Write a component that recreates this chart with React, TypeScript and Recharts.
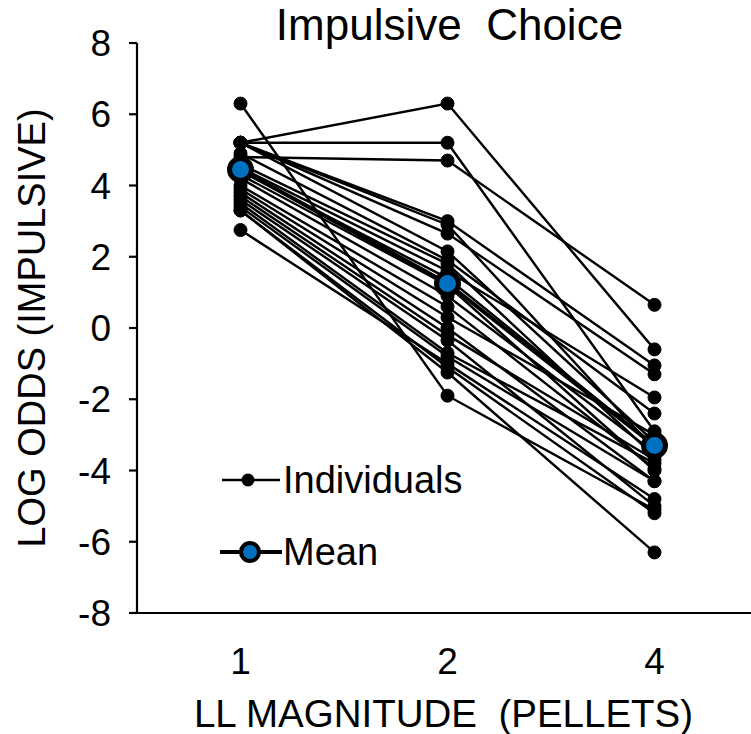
import { Legend, Line, LineChart, XAxis, YAxis } from "recharts";

const categories = ["1", "2", "4"];
const meanValues = [4.45, 1.25, -3.3];

// one row per animal: log odds at LL = 1, 2, 4 pellets
const individuals: number[][] = [
  [6.3, -1.9, -5.1],
  [5.2, 6.3, -0.6],
  [5.2, 5.2, -2.9],
  [4.8, 4.7, 0.65],
  [5.2, 3.0, -1.05],
  [5.2, 2.9, -3.4],
  [5.2, 2.65, -1.3],
  [5.2, 2.15, -3.2],
  [4.9, 1.9, -2.4],
  [4.6, 1.8, -3.6],
  [4.5, 1.6, -1.95],
  [4.4, 1.4, -3.3],
  [4.3, 1.2, -4.0],
  [4.2, 0.9, -3.5],
  [4.0, 0.6, -3.95],
  [3.9, 0.3, -3.0],
  [3.8, 0.0, -4.3],
  [3.7, -0.2, -3.7],
  [3.6, -0.35, -5.0],
  [3.5, -0.7, -3.8],
  [3.4, -0.8, -4.3],
  [3.3, -1.1, -5.2],
  [3.3, -1.25, -6.3],
  [2.75, -1.0, -4.8],
];

const yTicks = [-8, -6, -4, -2, 0, 2, 4, 6, 8];
const boundaryTicks = [0.5, 1.5, 2.5, 3.5];
const categoryTicks = [1, 2, 3];

const FONT = "'Liberation Sans', Arial, sans-serif";
const BLUE = "#0070C0";
const AXIS = { stroke: "#000", strokeWidth: 2.2 };

const data = categories.map((label, i) => {
  const row: Record<string, number | string> = {
    pos: i + 1,
    label,
    mean: meanValues[i],
  };
  individuals.forEach((s, j) => {
    row[`s${j}`] = s[i];
  });
  return row;
});

function LegendContent({ payload }: { payload?: any[] }) {
  const items = (payload ?? []).filter((p) => p.type !== "none");
  return (
    <div style={{ fontFamily: FONT, fontSize: 38, color: "#000" }}>
      {items.map((p) => {
        const isMean = p.value === "Mean";
        return (
          <div
            key={p.value}
            style={{ display: "flex", alignItems: "center", height: 72 }}
          >
            <svg width={65} height={30}>
              <line
                x1={isMean ? 2 : 4}
                x2={isMean ? 64 : 62}
                y1={15}
                y2={15}
                stroke="#000"
                strokeWidth={isMean ? 4 : 2.5}
              />
              {isMean ? (
                <circle cx={32} cy={15} r={9} fill={BLUE} stroke="#000" strokeWidth={4} />
              ) : (
                <circle cx={30} cy={15} r={6.5} fill="#000" />
              )}
            </svg>
            <span>{p.value}</span>
          </div>
        );
      })}
    </div>
  );
}

export default function App() {
  return (
    <div
      style={{
        position: "absolute",
        left: 0,
        top: 0,
        width: 751,
        height: 734,
        overflow: "hidden",
        background: "#fff",
      }}
    >
      <div
        style={{
          position: "absolute",
          top: 0,
          left: 139,
          width: 621,
          textAlign: "center",
          fontFamily: FONT,
          fontSize: 44,
          lineHeight: "50px",
          whiteSpace: "pre",
          color: "#000",
        }}
      >
        {"Impulsive  Choice"}
      </div>
      <LineChart
        width={758}
        height={734}
        data={data}
        margin={{ top: 43, right: 0, left: 0, bottom: 0 }}
      >
        <XAxis
          xAxisId="b"
          dataKey="pos"
          type="number"
          domain={[0.5, 3.5]}
          allowDataOverflow
          ticks={boundaryTicks}
          interval={0}
          tick={false}
          tickSize={10}
          height={10}
          axisLine={AXIS}
          tickLine={AXIS}
        />
        <XAxis
          xAxisId="l"
          dataKey="pos"
          type="number"
          domain={[0.5, 3.5]}
          allowDataOverflow
          ticks={categoryTicks}
          interval={0}
          tickFormatter={(v) => categories[v - 1]}
          axisLine={false}
          tickLine={false}
          tickSize={0}
          tickMargin={25}
          height={111}
          tick={{ fill: "#000", fontSize: 37, fontFamily: FONT }}
          label={{
            value: "LL MAGNITUDE\u00a0 (PELLETS)",
            position: "insideBottom",
            offset: 7,
            dx: -4,
            style: { fill: "#000", fontSize: 38.5, fontFamily: FONT },
          }}
        />
        <YAxis
          type="number"
          domain={[-8, 8]}
          allowDataOverflow
          ticks={yTicks}
          interval={0}
          width={137}
          tickSize={8}
          tickMargin={18}
          axisLine={AXIS}
          tickLine={AXIS}
          tick={{ fill: "#000", fontSize: 37, fontFamily: FONT }}
          label={{
            value: "LOG ODDS (IMPULSIVE)",
            angle: -90,
            position: "insideLeft",
            offset: 32,
            style: {
              textAnchor: "middle",
              fill: "#000",
              fontSize: 38,
              fontFamily: FONT,
            },
          }}
        />
        <Legend
          layout="vertical"
          align="center"
          verticalAlign="middle"
          wrapperStyle={{ left: 218, top: 444, width: 280 }}
          content={<LegendContent />}
        />
        {individuals.map((_, j) => (
          <Line
            key={`s${j}`}
            xAxisId="b"
            dataKey={`s${j}`}
            name="Individuals"
            legendType={j === 0 ? "line" : "none"}
            stroke="#000"
            strokeWidth={2.4}
            dot={{ r: 6.5, fill: "#000", stroke: "#000", strokeWidth: 1 }}
            isAnimationActive={false}
          />
        ))}
        <Line
          xAxisId="b"
          dataKey="mean"
          name="Mean"
          stroke="#000"
          strokeWidth={4}
          dot={{ r: 11, fill: BLUE, stroke: "#000", strokeWidth: 5 }}
          isAnimationActive={false}
        />
      </LineChart>
    </div>
  );
}
